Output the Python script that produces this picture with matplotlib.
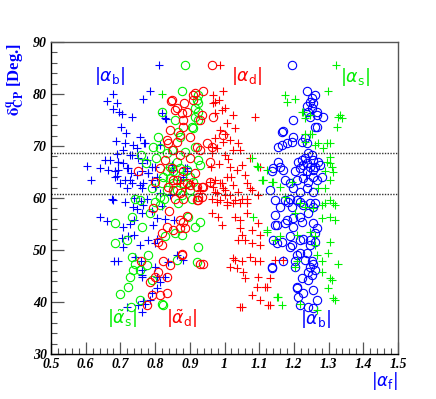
import matplotlib
matplotlib.use("Agg")
import matplotlib.pyplot as plt
from matplotlib.ticker import MultipleLocator
import numpy as np

# ---------------- data (x = |alpha_f|, y = delta_CP^q in degrees) ----------------
blue_plus = [
    (0.811, 85.6), (0.679, 80.0), (0.661, 78.7), (0.690, 78.3), (0.785, 80.6), (0.765, 79.0),
    (0.679, 77.1), (0.696, 76.5), (0.705, 76.2), (0.733, 75.6), (0.831, 75.2), (0.702, 73.6),
    (0.716, 72.5), (0.756, 71.7), (0.687, 71.0), (0.713, 70.6), (0.737, 70.2), (0.747, 69.6),
    (0.769, 70.5), (0.689, 68.4), (0.728, 68.3), (0.656, 67.3), (0.670, 67.4), (0.692, 67.0),
    (0.708, 66.7), (0.603, 66.2), (0.641, 65.8), (0.665, 65.3), (0.694, 65.3), (0.721, 65.7),
    (0.731, 64.9), (0.689, 64.2), (0.713, 63.5), (0.615, 63.5), (0.684, 64.0), (0.747, 64.4),
    (0.732, 62.8), (0.718, 62.0), (0.756, 62.5), (0.675, 59.9), (0.641, 56.4), (0.662, 55.6),
    (0.680, 59.6), (0.712, 59.2), (0.735, 58.3), (0.748, 57.8), (0.760, 59.5), (0.740, 60.0),
    (0.708, 54.5), (0.740, 55.8), (0.728, 55.0), (0.704, 52.4), (0.723, 52.6), (0.740, 52.8),
    (0.708, 50.6), (0.756, 51.0), (0.682, 47.9), (0.694, 47.9), (0.742, 48.7), (0.759, 47.9),
    (0.763, 46.2), (0.761, 44.9), (0.718, 39.1), (0.752, 39.4), (0.766, 40.1), (0.761, 38.1),
    (0.776, 59.9), (0.766, 58.7), (0.761, 57.1), (0.805, 56.1), (0.795, 54.8), (0.829, 56.0),
    (0.854, 55.8), (0.780, 51.9), (0.805, 52.2), (0.800, 51.3), (0.862, 49.0), (0.881, 48.1),
    (0.838, 47.7), (0.800, 46.8), (0.805, 44.9), (0.829, 44.9), (0.761, 45.2), (0.814, 43.9),
    (0.805, 42.6), (0.790, 41.7), (0.771, 39.7), (0.785, 40.4), (0.819, 76.3), (0.829, 75.3),
    (0.771, 70.6), (0.814, 70.2), (0.761, 66.7), (0.800, 66.0), (0.780, 64.8), (0.790, 63.5),
    (0.848, 66.3), (0.853, 65.4), (0.886, 65.7), (0.891, 65.1), (0.881, 64.1), (0.761, 61.9),
    (0.708, 69.2), (0.732, 68.3), (0.752, 67.6), (0.694, 67.0), (0.776, 67.3), (0.790, 66.0),
    (0.718, 65.7), (0.684, 65.1), (0.761, 65.1), (0.780, 64.8), (0.805, 64.1), (0.728, 63.5),
    (0.766, 62.8), (0.800, 62.2), (0.699, 62.8), (0.872, 63.5), (0.891, 65.7), (0.814, 60.9),
    (0.819, 58.5), (0.842, 60.5), (0.791, 57.5), (1.235, 64.5),
]

green_circle = [
    (0.887, 85.6), (0.877, 80.6), (0.925, 79.9), (0.920, 78.8), (0.925, 78.2), (0.915, 77.3),
    (0.925, 76.6), (0.915, 75.6), (0.925, 75.0), (0.857, 75.0), (0.819, 76.6), (0.910, 73.4),
    (0.867, 72.6), (0.872, 71.8), (0.905, 73.7), (0.809, 71.8), (0.795, 69.9), (0.814, 69.6),
    (0.833, 68.6), (0.848, 69.2), (0.886, 68.9), (0.915, 69.9), (0.925, 67.3), (0.929, 66.3),
    (0.862, 67.0), (0.843, 66.0), (0.833, 65.1), (0.853, 65.1), (0.872, 65.7), (0.891, 65.4),
    (0.824, 64.1), (0.843, 63.8), (0.877, 64.1), (0.901, 64.1), (0.819, 62.8), (0.853, 62.8),
    (0.881, 62.8), (0.910, 63.1), (0.833, 61.5), (0.862, 61.5), (0.901, 61.5), (0.877, 60.6),
    (0.905, 59.9), (0.814, 60.2), (0.742, 59.9), (0.756, 59.6), (0.800, 59.3), (0.814, 58.7),
    (0.867, 59.0), (0.896, 56.4), (0.929, 55.4), (0.915, 54.5), (0.857, 53.2), (0.877, 52.9),
    (0.829, 52.6), (0.925, 50.6), (0.780, 49.0), (0.920, 47.7), (0.776, 47.1), (0.790, 44.2),
    (0.819, 39.7), (0.756, 40.4), (0.684, 55.1), (0.718, 51.9), (0.684, 51.4), (0.732, 56.3),
    (0.761, 54.5), (0.785, 57.1), (0.862, 48.1), (0.732, 48.6), (0.742, 47.4), (0.735, 46.2),
    (0.756, 46.2), (0.727, 44.9), (0.699, 41.6), (0.723, 42.8), (0.822, 39.4), (0.731, 39.1),
    (0.760, 68.3), (0.775, 66.8), (0.802, 67.6), (0.790, 62.0), (0.826, 59.8),
]

red_circle = [
    (0.963, 85.6), (0.939, 80.6), (0.910, 79.9), (0.910, 78.8), (0.884, 78.2), (0.845, 78.7),
    (0.857, 76.9), (0.862, 77.3), (0.891, 76.6), (0.881, 75.0), (0.843, 73.1), (0.881, 73.6),
    (0.968, 75.5), (0.929, 75.0), (0.833, 71.2), (0.949, 70.5), (0.920, 69.8), (0.862, 70.8),
    (0.848, 78.8), (0.877, 76.3), (0.872, 72.1), (0.901, 71.8), (0.963, 69.9), (0.997, 72.1),
    (0.929, 69.2), (0.958, 67.0), (0.934, 60.2), (0.958, 63.1), (0.901, 62.5), (0.853, 63.5),
    (0.853, 61.5), (0.857, 59.9), (0.881, 59.9), (0.925, 59.6), (0.881, 55.4), (0.872, 54.2),
    (0.853, 53.8), (0.819, 53.2), (0.833, 54.5), (0.809, 51.6), (0.819, 51.0), (0.877, 49.0),
    (0.824, 47.8), (0.843, 47.1), (0.939, 47.4), (0.809, 45.8), (0.800, 44.9), (0.785, 43.8),
    (0.833, 41.7), (0.790, 41.3), (0.814, 41.3), (0.776, 39.4), (0.934, 62.2), (0.922, 59.6),
    (0.891, 56.5), (0.929, 47.4), (0.877, 49.2), (0.835, 44.8), (0.915, 80.1), (0.934, 76.0),
    (0.838, 70.5), (0.853, 69.2), (0.872, 68.3), (0.901, 67.6), (0.829, 67.3), (0.848, 65.7),
    (0.881, 65.1), (0.915, 64.8), (0.814, 65.7), (0.862, 63.5), (0.891, 62.8), (0.920, 62.2),
    (0.838, 62.2), (0.872, 60.9), (0.925, 60.2), (0.800, 63.1), (0.750, 65.1), (0.759, 47.9),
    (0.872, 55.8), (0.886, 54.2), (0.939, 62.2), (0.795, 58.0), (0.840, 57.5),
]

red_plus = [
    (0.987, 85.6), (0.997, 80.5), (0.968, 79.8), (0.983, 78.8), (0.974, 78.5), (0.992, 76.9),
    (1.002, 77.3), (1.025, 76.0), (1.088, 75.5), (0.987, 73.1), (1.002, 72.4), (0.974, 71.5),
    (1.017, 71.2), (0.997, 70.8), (0.963, 69.9), (0.977, 69.6), (1.039, 70.5), (1.025, 69.2),
    (1.002, 68.3), (1.073, 67.6), (1.102, 66.0), (1.050, 66.3), (1.035, 65.4), (1.016, 66.0),
    (1.006, 74.4), (1.030, 73.4), (0.963, 68.6), (1.045, 69.2), (0.968, 78.2), (0.973, 76.3),
    (0.872, 62.8), (0.886, 61.9), (0.905, 62.8), (0.929, 61.5), (0.958, 63.1), (0.968, 62.2),
    (0.987, 62.8), (1.001, 61.5), (1.016, 60.6), (1.040, 61.2), (1.050, 59.9), (1.073, 61.9),
    (1.097, 60.6), (1.064, 59.0), (1.025, 59.0), (1.006, 59.3), (0.978, 59.3), (0.963, 57.1),
    (0.982, 56.4), (0.992, 54.8), (1.030, 56.4), (1.045, 55.8), (1.064, 57.1), (1.045, 54.2),
    (1.050, 52.9), (1.078, 53.8), (1.097, 55.1), (1.102, 52.9), (1.040, 51.9), (1.059, 51.9),
    (1.078, 51.3), (1.102, 51.0), (1.073, 48.7), (1.025, 48.4), (1.050, 47.8), (1.035, 46.5),
    (1.016, 46.8), (1.088, 47.8), (1.102, 47.8), (1.054, 45.8), (1.059, 44.6), (1.097, 44.9),
    (1.131, 44.6), (1.093, 42.9), (1.122, 42.9), (1.078, 41.3), (1.102, 40.4), (1.126, 39.4),
    (1.050, 39.1), (1.146, 48.1), (1.170, 48.1), (0.963, 59.9), (0.987, 59.6), (1.006, 58.7),
    (1.030, 59.6), (1.045, 59.0), (1.064, 59.9), (0.973, 61.2), (0.997, 61.9), (1.025, 62.5),
    (1.064, 62.8), (1.078, 61.5), (1.030, 48.1), (1.117, 42.9), (1.131, 39.4), (1.045, 39.1),
    (0.973, 63.5), (0.992, 62.8), (1.006, 64.1), (0.977, 60.9), (1.001, 60.6), (0.985, 66.5),
    (1.010, 67.5), (0.960, 66.0), (1.060, 64.5), (1.020, 64.0),
]

blue_circle = [
    (1.194, 85.6), (1.237, 80.6), (1.261, 79.9), (1.251, 79.2), (1.256, 78.2), (1.242, 76.6),
    (1.266, 76.6), (1.246, 75.6), (1.285, 75.5), (1.198, 75.0), (1.261, 73.6), (1.170, 72.8),
    (1.198, 71.8), (1.155, 69.9), (1.246, 78.5), (1.237, 77.6), (1.251, 77.3), (1.266, 76.0),
    (1.266, 73.7), (1.165, 72.6), (1.179, 70.5), (1.165, 70.2), (1.194, 70.8), (1.232, 71.5),
    (1.237, 70.5), (1.223, 70.8), (1.242, 68.6), (1.251, 68.3), (1.232, 67.6), (1.223, 67.3),
    (1.256, 67.3), (1.270, 67.0), (1.237, 66.7), (1.213, 67.0), (1.227, 66.3), (1.246, 66.0),
    (1.261, 66.0), (1.275, 66.3), (1.218, 65.7), (1.237, 65.1), (1.256, 65.4), (1.203, 65.1),
    (1.155, 67.0), (1.160, 66.0), (1.169, 65.4), (1.141, 65.7), (1.136, 65.1), (1.174, 63.5),
    (1.189, 62.8), (1.208, 63.5), (1.227, 63.8), (1.242, 63.1), (1.256, 64.1), (1.266, 63.5),
    (1.280, 64.1), (1.131, 61.5), (1.198, 61.9), (1.218, 61.2), (1.237, 61.9), (1.256, 61.2),
    (1.146, 59.6), (1.174, 59.6), (1.189, 59.9), (1.218, 59.3), (1.246, 59.0), (1.160, 58.3),
    (1.256, 58.3), (1.227, 58.7), (1.184, 59.3), (1.208, 59.6), (1.261, 59.0), (1.194, 58.3),
    (1.242, 57.1), (1.146, 56.7), (1.218, 56.4), (1.198, 56.1), (1.179, 55.8), (1.223, 55.4),
    (1.198, 54.5), (1.174, 55.1), (1.256, 55.1), (1.266, 54.2), (1.261, 53.2), (1.146, 54.8),
    (1.189, 52.6), (1.165, 51.6), (1.141, 51.9), (1.218, 51.9), (1.227, 52.2), (1.246, 51.9),
    (1.246, 51.0), (1.194, 51.0), (1.261, 51.6), (1.208, 49.0), (1.218, 49.4), (1.237, 49.4),
    (1.203, 47.8), (1.232, 48.1), (1.251, 47.8), (1.256, 47.4), (1.246, 46.8), (1.242, 45.8),
    (1.261, 46.2), (1.251, 45.2), (1.136, 46.8), (1.170, 47.8), (1.223, 44.6), (1.242, 44.2),
    (1.208, 42.6), (1.227, 41.7), (1.256, 42.3), (1.266, 40.4), (1.218, 39.4), (1.242, 39.1),
    (1.256, 38.8), (1.150, 54.8), (1.150, 51.3), (1.189, 50.6), (1.136, 46.5), (1.203, 46.8),
    (1.208, 42.9), (1.213, 41.0),
]

green_plus = [
    (1.321, 85.6), (1.299, 80.6), (1.174, 79.8), (1.179, 78.5), (1.203, 79.0), (1.222, 76.6),
    (1.333, 76.0), (1.338, 75.3), (1.323, 73.6), (1.232, 72.4), (1.251, 72.4), (1.270, 70.5),
    (1.294, 70.5), (1.304, 67.9), (1.309, 66.0), (1.314, 65.0), (1.097, 66.0), (1.107, 63.5),
    (1.136, 63.1), (1.160, 62.2), (1.093, 66.2), (1.122, 65.4), (1.078, 67.6), (1.110, 63.5),
    (1.227, 76.6), (1.246, 76.0), (1.232, 75.3), (1.328, 75.6), (1.246, 72.4), (1.232, 70.8),
    (1.261, 70.2), (1.304, 70.5), (1.285, 69.6), (1.294, 67.0), (1.304, 66.7), (1.290, 65.1),
    (1.112, 63.5), (1.141, 63.1), (1.194, 63.1), (1.304, 63.5), (1.290, 61.9), (1.270, 61.9),
    (1.174, 60.2), (1.304, 59.6), (1.314, 59.0), (1.280, 58.7), (1.256, 58.0), (1.232, 58.3),
    (1.203, 57.1), (1.218, 59.0), (1.280, 56.1), (1.304, 56.4), (1.318, 55.8), (1.290, 59.0),
    (1.318, 58.7), (1.122, 53.5), (1.146, 51.9), (1.160, 52.6), (1.208, 52.9), (1.246, 53.5),
    (1.261, 52.6), (1.261, 51.0), (1.304, 51.6), (1.208, 47.8), (1.203, 46.8), (1.266, 49.0),
    (1.299, 49.4), (1.280, 47.8), (1.328, 47.4), (1.280, 45.8), (1.304, 44.6), (1.309, 44.2),
    (1.155, 41.0), (1.165, 39.4), (1.218, 39.7), (1.299, 42.6), (1.318, 40.4), (1.266, 38.5),
    (1.314, 40.7), (1.083, 56.4), (1.122, 53.8), (1.150, 41.0), (0.820, 80.0),
]

x_ticks = [0.5, 0.6, 0.7, 0.8, 0.9, 1.0, 1.1, 1.2, 1.3, 1.4, 1.5]
x_tick_labels = ["0.5", "0.6", "0.7", "0.8", "0.9", "1", "1.1", "1.2", "1.3", "1.4", "1.5"]
y_ticks = [30, 40, 50, 60, 70, 80, 90]
band_lines = [68.7, 60.8]

labels = [
    (r"$|\alpha_{\rm b}|$", 0.670, 83.4, "#0000ff"),
    (r"$|\alpha_{\rm d}|$", 1.065, 83.4, "#ff0000"),
    (r"$|\alpha_{\rm s}|$", 1.376, 83.2, "#00ee00"),
    (r"$|\tilde{\alpha}_{\rm s}|$", 0.705, 36.8, "#00ee00"),
    (r"$|\tilde{\alpha}_{\rm d}|$", 0.877, 36.8, "#ff0000"),
    (r"$|\alpha_{\rm b}|$", 1.264, 36.8, "#0000ff"),
]

# ---------------- plotting ----------------
plt.rcParams["mathtext.fontset"] = "dejavusans"
fig = plt.figure(figsize=(4.36, 3.99), dpi=100)
ax = fig.add_axes([51 / 436, 1 - 354 / 399, 347 / 436, 312 / 399])

BLUE, RED, GREEN = "#0000ff", "#ff0000", "#00f000"

def xy(pts):
    a = np.array(pts)
    return a[:, 0], a[:, 1]

ms_plus, ms_circ, mew = 6.0, 6.0, 0.8
x, y = xy(blue_plus)
ax.plot(x, y, ls="none", marker="+", ms=ms_plus, mew=mew, color=BLUE)
x, y = xy(green_circle)
ax.plot(x, y, ls="none", marker="o", ms=ms_circ, mew=mew, mfc="none", mec=GREEN)
x, y = xy(red_circle)
ax.plot(x, y, ls="none", marker="o", ms=ms_circ, mew=mew, mfc="none", mec=RED)
x, y = xy(red_plus)
ax.plot(x, y, ls="none", marker="+", ms=ms_plus, mew=mew, color=RED)
x, y = xy(blue_circle)
ax.plot(x, y, ls="none", marker="o", ms=ms_circ, mew=mew, mfc="none", mec=BLUE)
x, y = xy(green_plus)
ax.plot(x, y, ls="none", marker="+", ms=ms_plus, mew=mew, color=GREEN)

for yl in band_lines:
    ax.axhline(yl, color="#333333", lw=1.0, ls=(0, (1, 1)))

for txt, tx, ty, c in labels:
    ax.text(tx, ty, txt, color=c, fontsize=12.5, ha="center", va="center")

ax.set_xlim(0.5, 1.5)
ax.set_ylim(30, 90)
ax.set_xticks(x_ticks)
ax.set_xticklabels(x_tick_labels)
ax.set_yticks(y_ticks)
ax.xaxis.set_minor_locator(MultipleLocator(0.02))
ax.yaxis.set_minor_locator(MultipleLocator(2))
ax.tick_params(which="major", direction="in", length=9, width=0.9, color="#555555",
               top=False, right=False, pad=3)
ax.tick_params(which="minor", direction="in", length=4.5, width=0.8, color="#555555",
               top=False, right=False)
for lab in ax.get_xticklabels() + ax.get_yticklabels():
    lab.set_fontfamily("Liberation Serif")
    lab.set_fontweight("bold")
    lab.set_fontstyle("italic")
    lab.set_fontsize(10)
for s in ["left", "bottom"]:
    ax.spines[s].set_color("black")
    ax.spines[s].set_linewidth(1.0)
for s in ["top", "right"]:
    ax.spines[s].set_color("#555555")
    ax.spines[s].set_linewidth(1.0)

fig.text(16 / 436, 1 - 80 / 399, r"$\mathbf{\delta^{q}_{CP}}$ [Deg.]", rotation=90,
         color=BLUE, fontsize=12, fontfamily="Liberation Serif", fontweight="bold",
         math_fontfamily="stix", ha="center", va="center")
fig.text(384 / 436, 1 - 381 / 399, r"$|\alpha_{\rm f}|$", color=BLUE, fontsize=12,
         ha="center", va="center")

fig.savefig("out.png", dpi=100)
